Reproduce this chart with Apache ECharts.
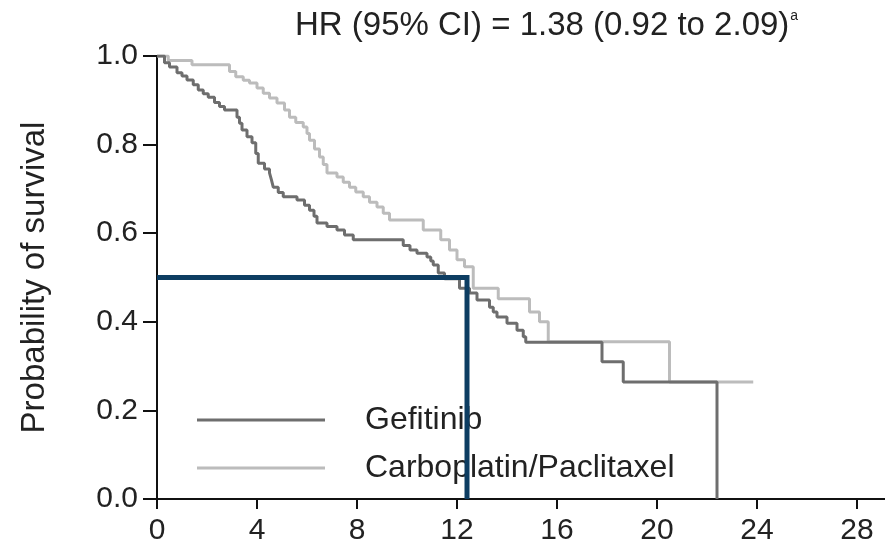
<!DOCTYPE html>
<html>
<head>
<meta charset="utf-8">
<script src="https://cdn.jsdelivr.net/npm/echarts@6/dist/echarts.min.js"></script>
<style>
  html, body { margin: 0; padding: 0; background: #ffffff; }
  #chart { width: 885px; height: 543px; }
</style>
</head>
<body>
<div id="chart"></div>
<script>
// Kaplan-Meier step points: time (months) and survival probability after each step
const gefTime = [0, 0.3, 0.5, 0.8, 1.0, 1.2, 1.45, 1.65, 1.85, 2.05, 2.3, 2.5, 2.7, 3.2, 3.3, 3.4, 3.6, 3.8, 3.95, 4.05, 4.3, 4.5, 4.58, 4.65, 4.85, 5.05, 5.6, 5.9, 6.1, 6.28, 6.4, 6.8, 7.2, 7.5, 7.85, 9.85, 10.12, 10.4, 10.8, 10.95, 11.05, 11.25, 11.5, 12.1, 12.5, 12.8, 13.3, 13.45, 13.6, 14.0, 14.4, 14.65, 14.75, 17.8, 18.65, 22.4];
const gefSurv = [1.0, 0.985, 0.975, 0.962, 0.955, 0.946, 0.935, 0.923, 0.915, 0.907, 0.895, 0.886, 0.878, 0.862, 0.848, 0.833, 0.818, 0.804, 0.78, 0.758, 0.745, 0.736, 0.72, 0.704, 0.692, 0.682, 0.675, 0.663, 0.652, 0.638, 0.623, 0.615, 0.607, 0.596, 0.585, 0.572, 0.562, 0.555, 0.546, 0.537, 0.528, 0.51, 0.497, 0.476, 0.465, 0.449, 0.433, 0.422, 0.411, 0.397, 0.381, 0.366, 0.354, 0.31, 0.264, 0.0];

const cpTime = [0, 0.45, 1.4, 2.9, 3.15, 3.45, 3.7, 4.0, 4.25, 4.5, 4.8, 5.1, 5.3, 5.55, 5.85, 6.0, 6.1, 6.3, 6.5, 6.65, 6.8, 7.2, 7.45, 7.7, 7.95, 8.25, 8.5, 8.8, 9.05, 9.3, 10.65, 11.35, 11.7, 12.0, 12.3, 12.65, 13.65, 14.9, 15.3, 15.65, 20.5, 23.85];
const cpSurv = [1.0, 0.99, 0.98, 0.965, 0.953, 0.945, 0.939, 0.928, 0.916, 0.905, 0.894, 0.878, 0.862, 0.85, 0.84, 0.825, 0.81, 0.79, 0.772, 0.755, 0.736, 0.727, 0.715, 0.704, 0.693, 0.682, 0.67, 0.659, 0.645, 0.63, 0.607, 0.585, 0.562, 0.54, 0.524, 0.476, 0.452, 0.422, 0.4, 0.355, 0.264, 0.264];

// Median survival guide
const medianTime = 12.4;
const medianSurv = 0.5;

const xTicks = [0, 4, 8, 12, 16, 20, 24, 28];

const seriesNames = ['Gefitinib', 'Carboplatin/Paclitaxel'];
const hrText = 'HR (95% CI) = 1.38 (0.92 to 2.09)';
const hrNote = 'a';

const FONT = "'Liberation Sans', Arial, Helvetica, sans-serif";
const TEXT = '#222222';

function pairs(xs, ys) { return xs.map((x, i) => [x, ys[i]]); }

const chart = echarts.init(document.getElementById('chart'), null, { renderer: 'canvas' });

chart.setOption({
  animation: false,
  backgroundColor: '#ffffff',
  title: {
    text: '{main|' + hrText + '}{sup|' + hrNote + '}',
    left: 290,
    top: 4,
    textStyle: {
      fontWeight: 'normal',
      rich: {
        main: { fontFamily: FONT, fontSize: 33, fontWeight: 'normal', color: TEXT },
        sup: { fontFamily: FONT, fontSize: 14, fontWeight: 'normal', color: TEXT, verticalAlign: 'top', padding: [0, 0, 16, 1] }
      }
    }
  },
  grid: { left: 157, right: 0, top: 56, bottom: 44, containLabel: false, outerBoundsMode: 'none' },
  legend: {
    data: seriesNames,
    orient: 'vertical',
    left: 197,
    top: 404,
    padding: 0,
    itemWidth: 128,
    itemHeight: 3,
    itemGap: 16,
    icon: 'rect',
    textStyle: { fontFamily: FONT, fontSize: 32, color: TEXT, padding: [0, 0, 0, 35] }
  },
  xAxis: {
    type: 'value',
    min: 0,
    max: 29.12,
    splitLine: { show: false },
    axisLine: { onZero: false, lineStyle: { color: '#111111', width: 2 } },
    axisTick: { show: true, customValues: xTicks, length: 10, lineStyle: { color: '#111111', width: 2 } },
    axisLabel: { customValues: xTicks, margin: 17, fontFamily: FONT, fontSize: 30, color: TEXT }
  },
  yAxis: {
    type: 'value',
    min: 0,
    max: 1,
    interval: 0.2,
    name: 'Probability of survival',
    nameLocation: 'middle',
    nameRotate: 90,
    nameGap: 106,
    nameTextStyle: { fontFamily: FONT, fontSize: 33, color: TEXT },
    splitLine: { show: false },
    axisLine: { lineStyle: { color: '#111111', width: 2 } },
    axisTick: { show: true, length: 14, lineStyle: { color: '#111111', width: 2 } },
    axisLabel: {
      margin: 19,
      fontFamily: FONT, fontSize: 30, color: TEXT,
      formatter: v => v.toFixed(1)
    }
  },
  series: [
    {
      name: seriesNames[1],
      type: 'line',
      step: 'end',
      showSymbol: false,
      symbol: 'none',
      color: '#bcbcbc',
      lineStyle: { color: '#bcbcbc', width: 3 },
      data: pairs(cpTime, cpSurv),
      z: 2
    },
    {
      name: seriesNames[0],
      type: 'line',
      step: 'end',
      showSymbol: false,
      symbol: 'none',
      color: '#6e6e6e',
      lineStyle: { color: '#6e6e6e', width: 3 },
      data: pairs(gefTime, gefSurv),
      z: 3
    },
    {
      name: 'median',
      type: 'line',
      showSymbol: false,
      symbol: 'none',
      lineStyle: { color: '#0d3d62', width: 5, join: 'miter', cap: 'butt' },
      data: [[0, medianSurv], [medianTime, medianSurv], [medianTime, 0]],
      z: 5
    }
  ]
});
</script>
</body>
</html>
